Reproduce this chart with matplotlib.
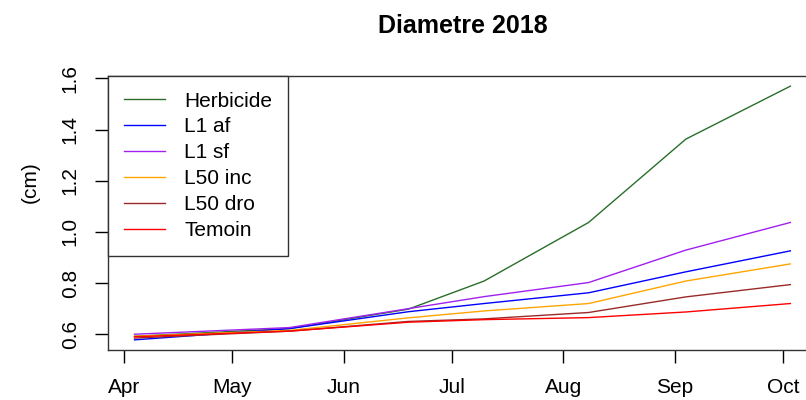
import datetime as dt
import matplotlib
matplotlib.use("Agg")
import matplotlib.pyplot as plt
import matplotlib.dates as mdates

plt.rcParams['font.family'] = ['Liberation Sans', 'DejaVu Sans']

# Measurement dates (2018) and mean stem diameter per treatment (cm)
dates = ["2018-04-04", "2018-05-17", "2018-06-19", "2018-07-10",
         "2018-08-08", "2018-09-04", "2018-10-03"]
herbicide = [0.592, 0.622, 0.698, 0.808, 1.037, 1.363, 1.570]
l1_af     = [0.578, 0.622, 0.688, 0.720, 0.762, 0.844, 0.926]
l1_sf     = [0.600, 0.626, 0.700, 0.747, 0.802, 0.929, 1.037]
l50_inc   = [0.592, 0.615, 0.664, 0.691, 0.720, 0.808, 0.875]
l50_dro   = [0.585, 0.612, 0.650, 0.660, 0.685, 0.746, 0.794]
temoin    = [0.590, 0.612, 0.647, 0.657, 0.665, 0.687, 0.720]

series_labels = ["Herbicide", "L1 af", "L1 sf", "L50 inc", "L50 dro", "Temoin"]
series_values = [herbicide, l1_af, l1_sf, l50_inc, l50_dro, temoin]
series_colors = ["#2a6e2a", "blue", "#A020F0", "orange", "#9a2a2a", "red"]

month_ticks = ["2018-04-01", "2018-05-01", "2018-06-01", "2018-07-01",
               "2018-08-01", "2018-09-01", "2018-10-01"]
month_labels = ["Apr", "May", "Jun", "Jul", "Aug", "Sep", "Oct"]
y_ticks = [0.6, 0.8, 1.0, 1.2, 1.4, 1.6]

def to_num(s):
    return mdates.date2num(dt.datetime.strptime(s, "%Y-%m-%d"))

x = [to_num(d) for d in dates]

W, H = 806, 400
fig = plt.figure(figsize=(W / 100, H / 100), dpi=100)
ax = fig.add_axes([108.3 / W, 50 / H, 708.3 / W, 274 / H])

for vals, lab, col in zip(series_values, series_labels, series_colors):
    ax.plot(x, vals, color=col, lw=1.0, label=lab)

# R-style 4% axis extension
allv = [v for s in series_values for v in s]
xspan = x[-1] - x[0]
yspan = max(allv) - min(allv)
ax.set_xlim(x[0] - 0.04 * xspan, x[-1] + 0.04 * xspan)
ax.set_ylim(min(allv) - 0.04 * yspan, max(allv) + 0.04 * yspan)

ax.set_xticks([to_num(m) for m in month_ticks])
ax.set_xticklabels(month_labels)
ax.set_yticks(y_ticks)
ax.set_yticklabels([f"{v:.1f}" for v in y_ticks], rotation=90, va="center")

ax.tick_params(axis="both", direction="out", length=9.5, width=1.0,
               labelsize=15, colors="black")
ax.tick_params(axis="x", pad=11)
ax.tick_params(axis="y", pad=11)
for sp in ax.spines.values():
    sp.set_linewidth(1.0)
    sp.set_color("#333333")

leg = ax.legend(loc="upper left", borderaxespad=0, frameon=True, fancybox=False,
                edgecolor="#333333", framealpha=1, fontsize=15,
                handlelength=1.95, handletextpad=0.95, labelspacing=0.33,
                borderpad=0.75)
leg.get_frame().set_linewidth(1.0)

fig.text(462.5 / W, 1 - 33 / H, "Diametre 2018", ha="center", va="baseline",
         fontsize=18, fontweight="bold")
fig.text(30 / W, 1 - 182 / H, "(cm)", ha="center", va="center",
         rotation=90, fontsize=15)

fig.savefig("out.png", dpi=100)
